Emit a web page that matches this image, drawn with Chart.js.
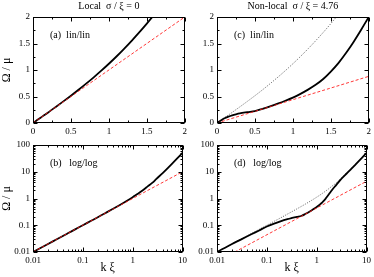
<!DOCTYPE html>
<html>
<head>
<meta charset="utf-8">
<script src="https://cdn.jsdelivr.net/npm/chart.js@4.4.1/dist/chart.umd.min.js"></script>
<style>
  html, body { margin: 0; padding: 0; background: #fff; }
  body { width: 374px; height: 277px; position: relative; overflow: hidden; }
  canvas { position: absolute; }
</style>
</head>
<body>
<canvas id="pa" width="190" height="140" style="left:0;top:0"></canvas>
<canvas id="pc" width="189" height="140" style="left:185px;top:0"></canvas>
<canvas id="pb" width="190" height="142" style="left:0;top:135px"></canvas>
<canvas id="pd" width="189" height="142" style="left:185px;top:135px"></canvas>
<script>
/* DATOS */
const kXi = [0, 0.01, 0.02, 0.03, 0.05, 0.07, 0.1, 0.15, 0.2, 0.25, 0.3, 0.4, 0.5, 0.6, 0.7, 0.8, 0.9,
  1.0, 1.1, 1.2, 1.3, 1.4, 1.5, 1.6, 1.7, 1.8, 1.9, 2.0, 2.5, 3, 4, 5, 6, 7, 8, 10];
const omegaLocal = [0, 0.01, 0.02, 0.03, 0.05, 0.07, 0.1, 0.15, 0.2, 0.252, 0.303, 0.408, 0.515, 0.626, 0.742, 0.862, 0.987,
  1.118, 1.255, 1.4, 1.551, 1.709, 1.875, 2.049, 2.23, 2.42, 2.62, 2.83, 3.9, 5.41, 8.94, 13.46, 18.97, 25.48, 32.98, 51.0];
const omegaNonLocal = [0, 0.01, 0.02, 0.029, 0.047, 0.064, 0.09, 0.12, 0.145, 0.165, 0.182, 0.205, 0.226, 0.268, 0.314, 0.365, 0.42,
  0.48, 0.55, 0.63, 0.72, 0.83, 0.97, 1.13, 1.32, 1.53, 1.76, 2.0, 3.3, 5.0, 8.6, 13.0, 18.5, 25.0, 32.5, 50];

// rectas de sonido (rojo)
const soundKLin = [0, 2];
const soundLocalLin = [0, 2];
const soundNonLocalLin = [0, 0.88];
const soundKLog = [0.01, 10];
const soundLocalLog = [0.01, 10];
const soundNonLocalLog = [0.0044, 4.4];

// ticks
const linTicks = [0, 0.5, 1, 1.5, 2];
const linMinor = [0.25, 0.75, 1.25, 1.75];
const logXTicks = [0.01, 0.1, 1, 10];
const logYTicks = [0.01, 0.1, 1, 10, 100];
const logMinor = [];
[0.01, 0.1, 1, 10].forEach(d => { for (let m = 2; m <= 9; m++) logMinor.push(d * m); });

Chart.defaults.font.family = "'Liberation Serif', 'DejaVu Serif', serif";
Chart.defaults.color = "#000";

function pts(xs, ys, keep) {
  const out = [];
  xs.forEach((x, i) => { if (keep(x)) out.push({ x: x, y: ys[i] }); });
  return out;
}
const isLin = x => x <= 2.5;
const isLog = x => x >= 0.01;

/* ESTILOS */
const red = { borderColor: "rgba(255,20,20,0.85)", borderWidth: 1, borderDash: [3, 2] };
const black = { borderColor: "#000", borderWidth: 1.8 };
const dotted = { borderColor: "#333", borderWidth: 0.8, borderDash: [1, 1.5] };

/* MARCO + TICKS HACIA ADENTRO */
const framePlugin = {
  id: "frame",
  afterDraw(chart, args, opts) {
    const ctx = chart.ctx, a = chart.chartArea;
    const xs = chart.scales.x, ys = chart.scales.y;
    ctx.save();
    ctx.strokeStyle = "#000";
    ctx.lineWidth = 1;
    const L = Math.round(a.left) + 0.5, R = Math.round(a.right) - 0.5;
    const T = Math.round(a.top) + 0.5, B = Math.round(a.bottom) - 0.5;
    ctx.strokeRect(L, T, R - L, B - T);
    ctx.beginPath();
    const tickX = (v, len) => {
      const p = Math.round(xs.getPixelForValue(v)) + 0.5;
      ctx.moveTo(p, B); ctx.lineTo(p, B - len);
      ctx.moveTo(p, T); ctx.lineTo(p, T + len);
    };
    const tickY = (v, len) => {
      const p = Math.round(ys.getPixelForValue(v)) + 0.5;
      ctx.moveTo(L, p); ctx.lineTo(L + len, p);
      ctx.moveTo(R, p); ctx.lineTo(R - len, p);
    };
    opts.xMajor.forEach(v => tickX(v, 4));
    opts.xMinor.forEach(v => tickX(v, 2));
    opts.yMajor.forEach(v => tickY(v, 4));
    opts.yMinor.forEach(v => tickY(v, 2));
    ctx.stroke();

    ctx.fillStyle = "#000";
    ctx.font = "10px 'Liberation Serif', serif";
    ctx.textBaseline = "middle";
    ctx.textAlign = "left";
    ctx.fillText(opts.label, a.left + 17, a.top + 18);
    if (opts.title) {
      ctx.textAlign = "center";
      ctx.fillText(opts.title, (a.left + a.right) / 2, 6);
    }
    ctx.restore();
  }
};

function axis(type, min, max, ticks, size, isX, titleText) {
  return {
    type: type, min: min, max: max,
    grid: { display: false, drawTicks: false },
    border: { display: false },
    ticks: {
      font: { size: 9 }, color: "#000", padding: 3,
      maxRotation: 0, autoSkip: false,
      callback: v => String(v)
    },
    afterBuildTicks: s => { s.ticks = ticks.map(v => ({ value: v })); },
    afterFit: s => { if (isX) s.height = size; else s.width = size; },
    title: {
      display: !!titleText, text: titleText || "",
      font: { size: 12 }, color: "#000",
      padding: isX ? { top: 0, bottom: 2 } : { top: 0, bottom: 0 }
    }
  };
}

function panel(id, cfg) {
  new Chart(document.getElementById(id), {
    type: "line",
    data: { datasets: cfg.datasets },
    options: {
      responsive: false,
      animation: false,
      layout: { padding: { top: cfg.top, right: 5, bottom: 0, left: 0 } },
      elements: { point: { radius: 0 }, line: { cubicInterpolationMode: "monotone", fill: false } },
      plugins: {
        legend: { display: false },
        tooltip: { enabled: false },
        frame: cfg.frame
      },
      scales: { x: cfg.x, y: cfg.y }
    },
    plugins: [framePlugin]
  });
}

/* (a) local lin/lin */
panel("pa", {
  top: 17,
  datasets: [
    Object.assign({ data: pts(soundKLin, soundLocalLin, isLin) }, red),
    Object.assign({ data: pts(kXi, omegaLocal, isLin) }, black)
  ],
  x: axis("linear", 0, 2, linTicks, 17, true),
  y: axis("linear", 0, 2, linTicks, 33, false, "Ω / μ"),
  frame: { label: "(a)  lin/lin", title: "Local  σ / ξ = 0",
    xMajor: linTicks, xMinor: linMinor, yMajor: linTicks, yMinor: linMinor }
});

/* (c) non-local lin/lin */
panel("pc", {
  top: 17,
  datasets: [
    Object.assign({ data: pts(soundKLin, soundNonLocalLin, isLin) }, red),
    Object.assign({ data: pts(kXi, omegaNonLocal, isLin) }, black),
    Object.assign({ data: pts(kXi, omegaLocal, isLin) }, dotted)
  ],
  x: axis("linear", 0, 2, linTicks, 17, true),
  y: axis("linear", 0, 2, linTicks, 32, false),
  frame: { label: "(c)  lin/lin", title: "Non-local  σ / ξ = 4.76",
    xMajor: linTicks, xMinor: linMinor, yMajor: linTicks, yMinor: linMinor }
});

/* (b) local log/log */
panel("pb", {
  top: 10,
  datasets: [
    Object.assign({ data: pts(soundKLog, soundLocalLog, isLog) }, red),
    Object.assign({ data: pts(kXi, omegaLocal, isLog) }, black)
  ],
  x: axis("logarithmic", 0.01, 10, logXTicks, 25, true, "k ξ"),
  y: axis("logarithmic", 0.01, 100, logYTicks, 33, false, "Ω / μ"),
  frame: { label: "(b)   log/log",
    xMajor: logXTicks, xMinor: logMinor.filter(v => v < 10), yMajor: logYTicks, yMinor: logMinor }
});

/* (d) non-local log/log */
panel("pd", {
  top: 10,
  datasets: [
    Object.assign({ data: pts(soundKLog, soundNonLocalLog, isLog) }, red),
    Object.assign({ data: pts(kXi, omegaNonLocal, isLog) }, black),
    Object.assign({ data: pts(kXi, omegaLocal, isLog) }, dotted)
  ],
  x: axis("logarithmic", 0.01, 10, logXTicks, 25, true, "k ξ"),
  y: axis("logarithmic", 0.01, 100, logYTicks, 32, false),
  frame: { label: "(d)   log/log",
    xMajor: logXTicks, xMinor: logMinor.filter(v => v < 10), yMajor: logYTicks, yMinor: logMinor }
});
</script>
</body>
</html>
